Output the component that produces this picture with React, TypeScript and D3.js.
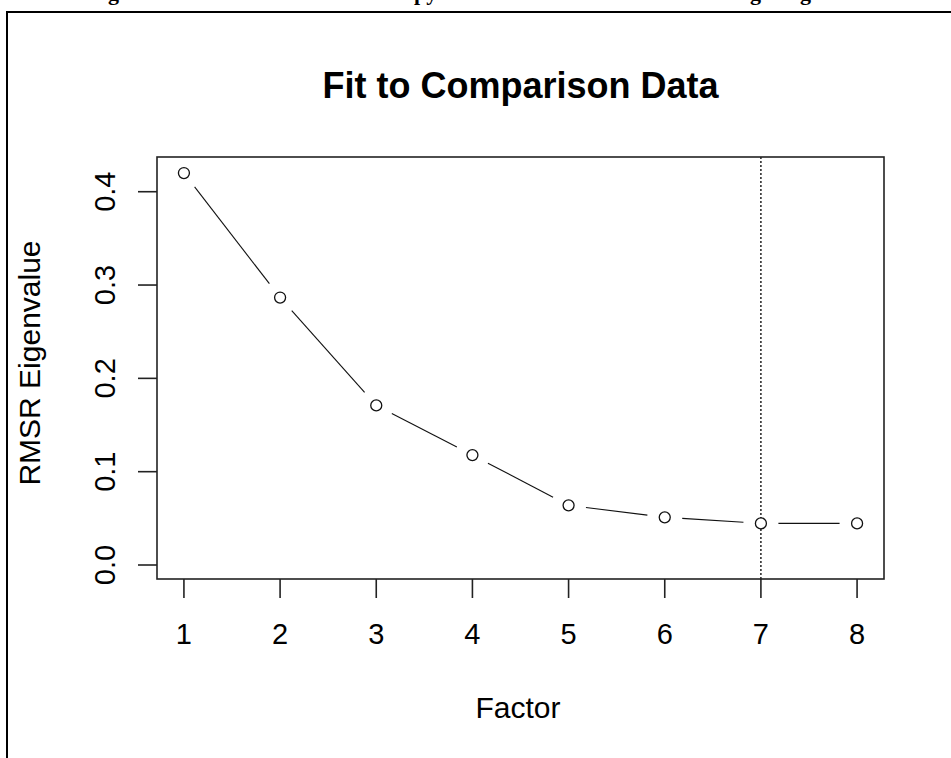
import * as d3 from 'd3';

// scree values
const factors = [1, 2, 3, 4, 5, 6, 7, 8];
const rmsr = [0.42, 0.2866, 0.171, 0.1178, 0.0639, 0.0511, 0.0446, 0.0446];
const yTicks = [0, 0.1, 0.2, 0.3, 0.4];
const cutoffFactor = 7;

const W = 951;
const H = 758;
const box = { left: 157, right: 884, top: 157, bottom: 579 };
const font = 'Arial, "Liberation Sans", sans-serif';

export default function App() {
    const x = d3.scaleLinear().domain([0.72, 8.28]).range([box.left, box.right]);
    const y = d3.scaleLinear().domain([-0.015, 0.4372]).range([box.bottom, box.top]);

    // R type="b": segments stop short of each point
    const gap = 17.5;
    const segs = d3.pairs(factors.map((f, i) => [x(f), y(rmsr[i])])).map(([a, b]) => {
        const dx = b[0] - a[0];
        const dy = b[1] - a[1];
        const len = Math.hypot(dx, dy);
        const ux = dx / len;
        const uy = dy / len;
        return [a[0] + ux * gap, a[1] + uy * gap, b[0] - ux * gap, b[1] - uy * gap];
    });

    return (
        <svg
            width={W}
            height={H}
            style={{ position: 'absolute', left: 0, top: 0, background: '#fff' }}
        >
            <rect width={W} height={H} fill="#fff" />

            {/* page frame and clipped caption above it */}
            <g fontFamily='"Liberation Serif", serif' fontWeight="bold" fontSize={22} fill="#000">
                <text x={108} y={0}>g</text>
                <text x={414} y={0}>py</text>
                <text x={750} y={0}>g</text>
                <text x={800} y={0}>g</text>
            </g>
            <line x1={6} y1={12} x2={W} y2={12} stroke="#000" strokeWidth={2} />
            <line x1={7} y1={11} x2={7} y2={H} stroke="#000" strokeWidth={2} />

            <text
                x={(box.left + box.right) / 2}
                y={98}
                textAnchor="middle"
                fontFamily={font}
                fontWeight="bold"
                fontSize={36}
            >
                Fit to Comparison Data
            </text>

            {/* cutoff marker */}
            <line
                x1={x(cutoffFactor)}
                x2={x(cutoffFactor)}
                y1={box.top}
                y2={box.bottom}
                stroke="#000"
                strokeWidth={1.3}
                strokeDasharray="2,2"
            />

            {segs.map((s, i) => (
                <line key={i} x1={s[0]} y1={s[1]} x2={s[2]} y2={s[3]} stroke="#111" strokeWidth={1.1} />
            ))}
            {factors.map((f, i) => (
                <circle
                    key={f}
                    cx={x(f)}
                    cy={y(rmsr[i])}
                    r={5.5}
                    fill="#fff"
                    stroke="#111"
                    strokeWidth={1.3}
                />
            ))}

            <rect
                x={box.left}
                y={box.top}
                width={box.right - box.left}
                height={box.bottom - box.top}
                fill="none"
                stroke="#222"
                strokeWidth={1.6}
            />

            {/* x axis */}
            {factors.map((f) => (
                <g key={f}>
                    <line x1={x(f)} x2={x(f)} y1={box.bottom} y2={box.bottom + 19} stroke="#222" strokeWidth={1.6} />
                    <text x={x(f)} y={644} textAnchor="middle" fontFamily={font} fontSize={29}>
                        {f}
                    </text>
                </g>
            ))}
            <text x={518} y={718} textAnchor="middle" fontFamily={font} fontSize={30}>
                Factor
            </text>

            {/* y axis */}
            {yTicks.map((t) => (
                <g key={t}>
                    <line x1={box.left} x2={box.left - 19} y1={y(t)} y2={y(t)} stroke="#222" strokeWidth={1.6} />
                    <text
                        transform={`translate(115, ${y(t)}) rotate(-90)`}
                        textAnchor="middle"
                        fontFamily={font}
                        fontSize={29}
                    >
                        {d3.format('.1f')(t)}
                    </text>
                </g>
            ))}
            <text
                transform={`translate(40, ${363}) rotate(-90)`}
                textAnchor="middle"
                fontFamily={font}
                fontSize={30}
            >
                RMSR Eigenvalue
            </text>
        </svg>
    );
}
